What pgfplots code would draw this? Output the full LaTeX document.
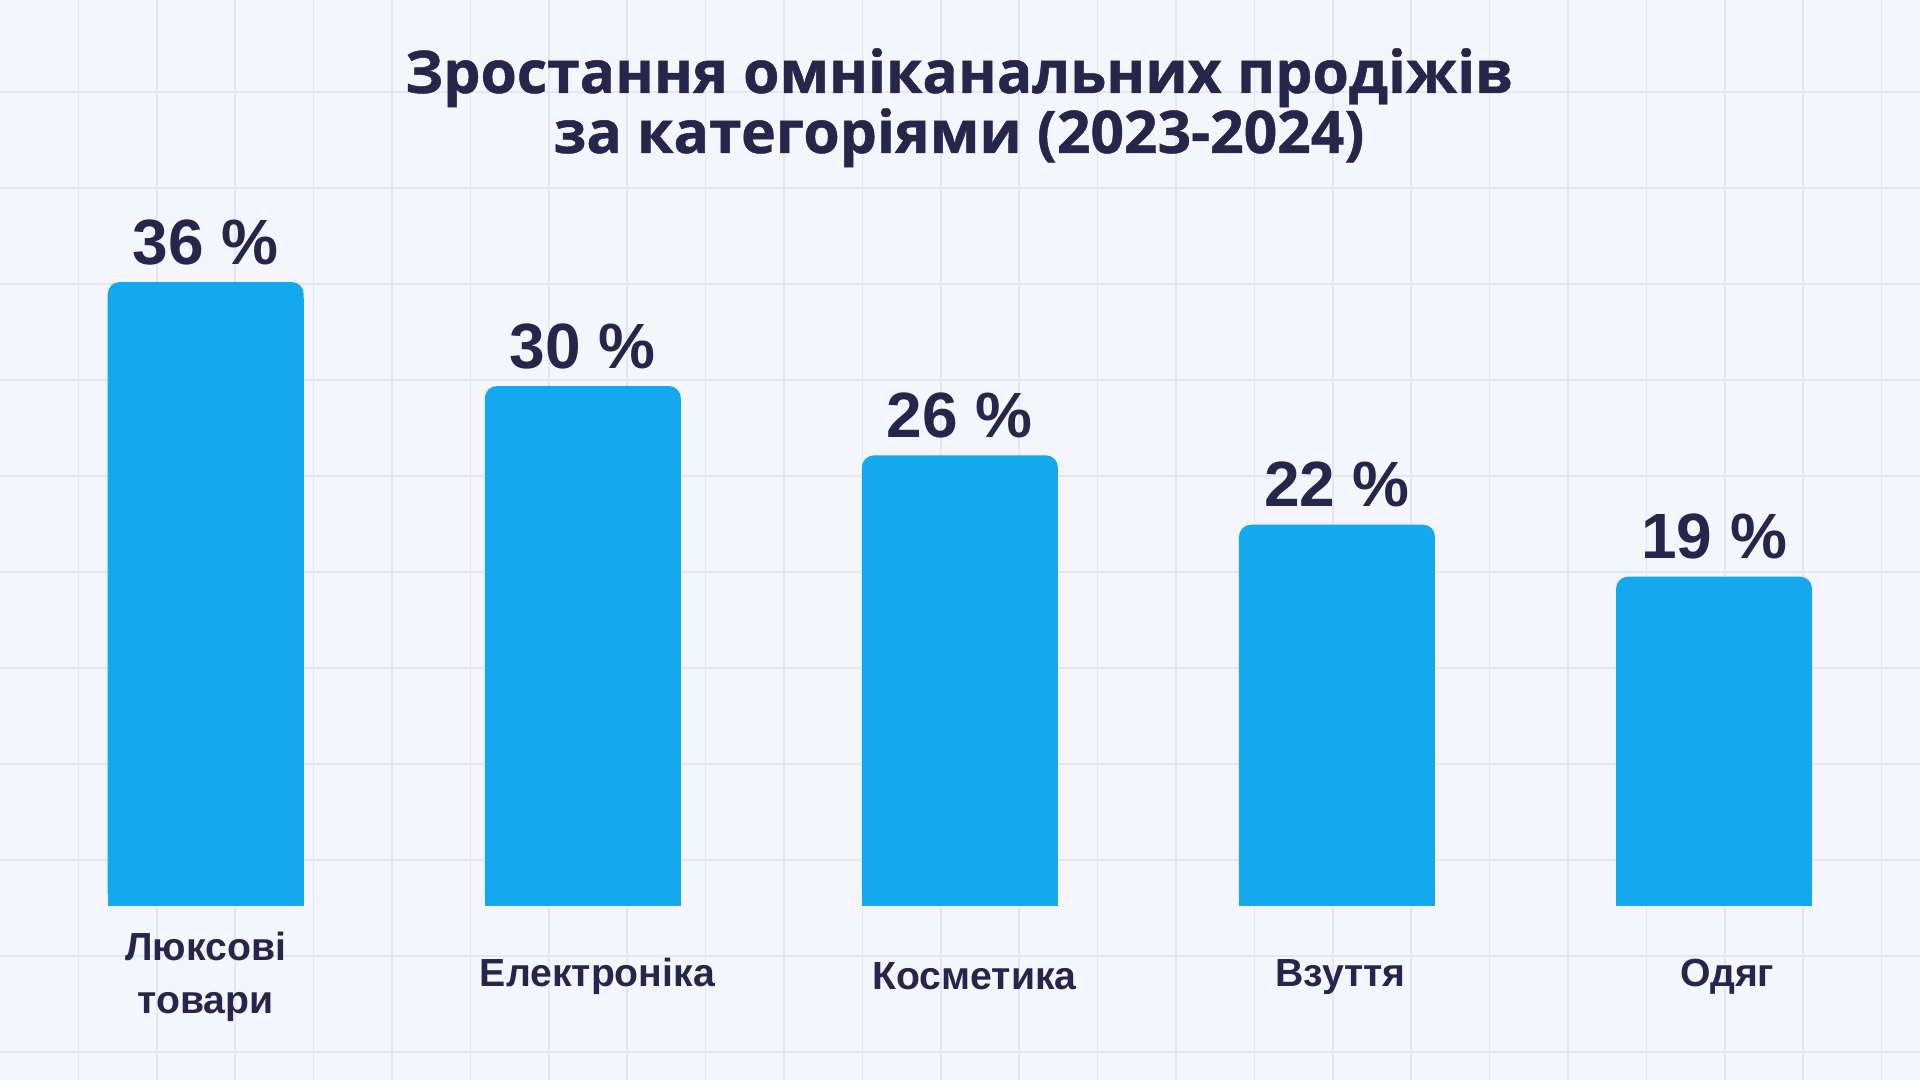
\documentclass[border=0pt]{standalone}
\usepackage{fontspec}
\setmainfont{Liberation Sans}
\newfontfamily\titlefont{Open Sans}[BoldFeatures={FakeBold=0.8}]
\usepackage{pgfplots}
\usepackage{pgfplotstable}
\pgfplotsset{compat=1.18}
\definecolor{bg}{HTML}{F5F6FB}
\definecolor{gridc}{HTML}{E6E6F3}
\definecolor{navy}{HTML}{25264A}
\definecolor{barc}{HTML}{14A8EE}

\pgfplotstableread{
x v
0 36
1 30
2 26
3 22
4 19
}\datatable

\begin{document}
\begin{tikzpicture}
\fill[bg] (0,0) rectangle (960pt,540pt);
\useasboundingbox (0,0) rectangle (960pt,540pt);
\foreach \i in {1,...,24} \draw[gridc, line width=0.8pt] (\i*39.2pt,0) -- (\i*39.2pt,540pt);
\foreach \j in {0,...,10} \draw[gridc, line width=0.8pt] (0,494pt-\j*48pt) -- (960pt,494pt-\j*48pt);

\node[font=\titlefont\bfseries\fontsize{29.4}{36}\selectfont, text=navy, anchor=base] at (479.5pt,493.5pt) {Зростання омніканальних продіжів};
\node[font=\titlefont\bfseries\fontsize{29.4}{36}\selectfont, text=navy, anchor=base] at (479.5pt,463.5pt) {за категоріями (2023-2024)};

\begin{axis}[
  at={(8.6pt,87pt)}, anchor=south west,
  scale only axis, width=942.7pt, height=433.3pt,
  xmin=-0.5, xmax=4.5, ymin=0, ymax=50,
  axis line style={draw=none}, tick style={draw=none},
  ytick=\empty,
  xtick={0,1,2,3,4},
  xticklabels={{Люксові\\товари},{\hspace*{14.6pt}Електроніка},{\hspace*{14.6pt}Косметика},{\hspace*{3.6pt}Взуття},{\hspace*{13.4pt}Одяг}},
  xticklabel style={align=center, anchor=center, yshift=-35.3pt, font=\bfseries\fontsize{19.6}{26.5}\selectfont, text=navy},
  /pgf/number format/assume math mode=true,
]
\addplot[ycomb, draw=barc, line width=98pt, mark=none, yshift=-8pt] table[x=x,y=v]{\datatable};
\addplot[ybar, bar width=98pt, fill=barc, draw=none, rounded corners=6pt,
  nodes near coords={\pgfmathprintnumber{\pgfplotspointmeta}~\%},
  every node near coord/.append style={font=\bfseries\fontsize{32}{38}\selectfont, text=navy, anchor=base, yshift=9pt, inner sep=0pt}
] table[x=x,y=v]{\datatable};
\end{axis}
\end{tikzpicture}
\end{document}
